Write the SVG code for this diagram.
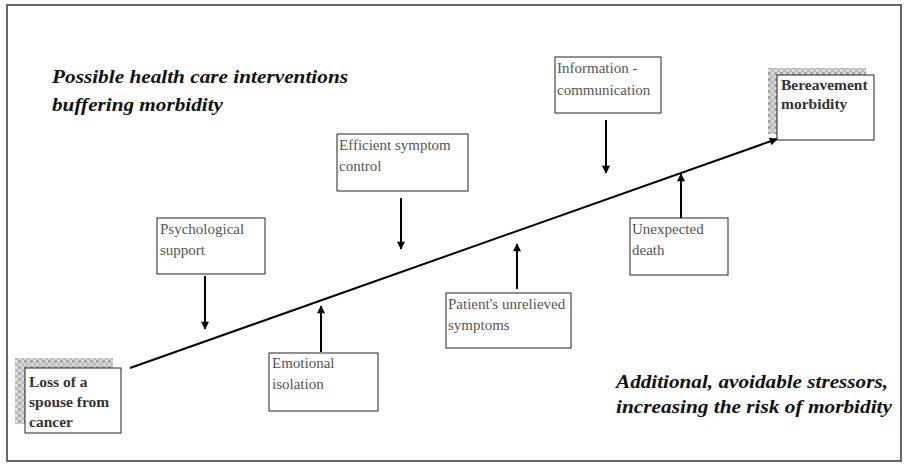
<svg xmlns="http://www.w3.org/2000/svg" width="904" height="464" viewBox="0 0 904 464">
<style>
.box{fill:#fff;stroke:#222;stroke-width:1}
.t{font-family:"Liberation Serif",serif;font-size:15px;fill:#555}
.tb{font-family:"Liberation Serif",serif;font-size:15.5px;font-weight:bold;fill:#333}
.it{font-family:"Liberation Serif",serif;font-size:19.5px;font-weight:bold;font-style:italic;fill:#111}
.ar{stroke:#000;stroke-width:2;fill:none;marker-end:url(#ah)}
.shadow{fill:url(#chk)}
</style>
<defs>
<marker id="ah" viewBox="0 0 10 10" refX="9" refY="5" markerWidth="4.5" markerHeight="4" orient="auto" markerUnits="strokeWidth">
<path d="M0,0 L10,5 L0,10 z" fill="#000"/>
</marker>
<pattern id="chk" width="6" height="6" patternUnits="userSpaceOnUse">
<rect width="6" height="6" fill="#d8d8d8"/>
<rect width="3" height="3" fill="#a8a8a8"/>
<rect x="3" y="3" width="3" height="3" fill="#bdbdbd"/>
</pattern>
</defs>
<rect x="7" y="5" width="894" height="456" fill="#fff" stroke="#666" stroke-width="2"/>
<g id="connectors">
<line class="ar" x1="130" y1="368" x2="777" y2="139"/>
<line class="ar" x1="205" y1="276" x2="205" y2="329"/>
<line class="ar" x1="321" y1="352" x2="321" y2="306"/>
<line class="ar" x1="401" y1="198" x2="401" y2="249"/>
<line class="ar" x1="517" y1="289" x2="517" y2="244"/>
<line class="ar" x1="606" y1="120" x2="606" y2="173"/>
<line class="ar" x1="681" y1="218" x2="681" y2="174"/>
</g>
<g id="title-top">
<text class="it" x="52" y="83" textLength="296" lengthAdjust="spacingAndGlyphs">Possible health care interventions</text>
<text class="it" x="52" y="111" textLength="171" lengthAdjust="spacingAndGlyphs">buffering morbidity</text>
</g>
<g id="title-bottom">
<text class="it" x="616" y="388" textLength="272" lengthAdjust="spacingAndGlyphs">Additional, avoidable stressors,</text>
<text class="it" x="616" y="413" textLength="276" lengthAdjust="spacingAndGlyphs">increasing the risk of morbidity</text>
</g>
<g id="loss">
<rect class="shadow" x="15" y="358" width="98" height="66"/>
<rect class="box" x="25" y="368" width="96" height="65"/>
<text class="tb" x="29" y="387">Loss of a</text>
<text class="tb" x="29" y="407">spouse from</text>
<text class="tb" x="29" y="427">cancer</text>
</g>
<g id="bereavement">
<rect class="shadow" x="768" y="68" width="98" height="66"/>
<rect class="box" x="777" y="75" width="97" height="65"/>
<text class="tb" x="781" y="90">Bereavement</text>
<text class="tb" x="781" y="109">morbidity</text>
</g>
<g id="psych">
<rect class="box" x="157" y="218" width="108" height="56"/>
<text class="t" x="160" y="234">Psychological</text>
<text class="t" x="160" y="255">support</text>
</g>
<g id="emotional">
<rect class="box" x="269" y="353" width="109" height="58"/>
<text class="t" x="272" y="368">Emotional</text>
<text class="t" x="272" y="389">isolation</text>
</g>
<g id="efficient">
<rect class="box" x="337" y="134" width="131" height="57"/>
<text class="t" x="339" y="150">Efficient symptom</text>
<text class="t" x="339" y="171">control</text>
</g>
<g id="patient">
<rect class="box" x="446" y="293" width="125" height="55"/>
<text class="t" x="448" y="309">Patient's unrelieved</text>
<text class="t" x="448" y="330">symptoms</text>
</g>
<g id="information">
<rect class="box" x="555" y="57" width="106" height="56"/>
<text class="t" x="557" y="73">Information -</text>
<text class="t" x="557" y="95">communication</text>
</g>
<g id="unexpected">
<rect class="box" x="630" y="218" width="98" height="57"/>
<text class="t" x="632" y="234">Unexpected</text>
<text class="t" x="632" y="255">death</text>
</g>
</svg>
